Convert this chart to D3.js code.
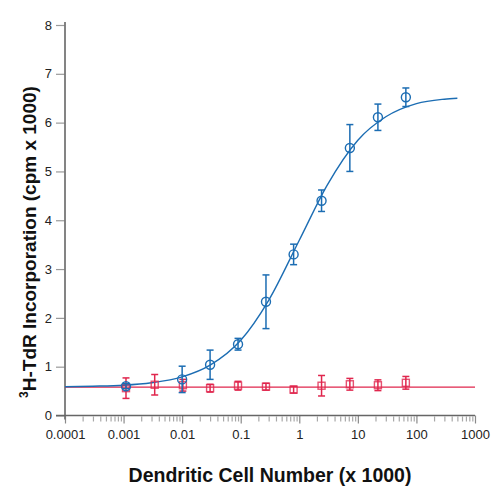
<!DOCTYPE html>
<html>
<head>
<meta charset="utf-8">
<script src="https://cdn.jsdelivr.net/npm/d3@7"></script>
<style>
  body { margin: 0; background: #fff; }
  svg { display: block; font-family: "Liberation Sans", Arial, sans-serif; }
</style>
</head>
<body>
<svg id="chart" width="500" height="500"></svg>
<script>
// ------------------------------------------------------------
// Data (x in cells x 1000, y in cpm x 1000)
// ------------------------------------------------------------
const blueX   = [0.0011, 0.01, 0.03, 0.09, 0.27, 0.8, 2.4, 7.3, 22, 66];
const blueY   = [0.60, 0.74, 1.04, 1.46, 2.33, 3.30, 4.40, 5.48, 6.11, 6.52];
const blueErr = [0.05, 0.27, 0.30, 0.12, 0.55, 0.21, 0.22, 0.48, 0.27, 0.19];

const redX   = [0.0011, 0.0034, 0.0103, 0.03, 0.09, 0.27, 0.8, 2.4, 7.3, 22, 66];
const redY   = [0.56, 0.63, 0.62, 0.56, 0.61, 0.59, 0.53, 0.61, 0.64, 0.62, 0.67];
const redErr = [0.21, 0.21, 0.12, 0.08, 0.09, 0.07, 0.07, 0.21, 0.12, 0.11, 0.13];

// fitted sigmoid as drawn, sampled along the picture
const fitX = [0.0001, 0.0003, 0.001, 0.003, 0.01, 0.03, 0.1, 0.3, 1, 3, 10, 30, 100, 300, 500];
const fitY = [0.59, 0.60, 0.62, 0.67, 0.79, 1.03, 1.54, 2.36, 3.59, 4.72, 5.64, 6.12, 6.39, 6.48, 6.50];

// flat baseline fit for the control
const baseX = [0.0001, 1000];
const baseY = [0.58, 0.58];

const xTickValues = [0.0001, 0.001, 0.01, 0.1, 1, 10, 100, 1000];
const xTickLabels = ["0.0001", "0.001", "0.01", "0.1", "1", "10", "100", "1000"];
const yTickValues = [0, 1, 2, 3, 4, 5, 6, 7, 8];

const BLUE = "#1c6db3";
const RED = "#e0264d";

// ------------------------------------------------------------
const svg = d3.select("#chart");

const x = d3.scaleLog().domain([0.0001, 1000]).range([65, 475]);
const y = d3.scaleLinear().domain([0, 8]).range([415.5, 25]);

// --- y axis ---
const yAxis = svg.append("g")
    .attr("transform", "translate(65,0)")
    .call(d3.axisLeft(y).tickValues(yTickValues).tickSize(9).tickPadding(4).tickSizeOuter(0));
yAxis.select(".domain").remove();
yAxis.selectAll(".tick line").attr("stroke", "#9a9a9a").attr("stroke-width", 1.2);
yAxis.selectAll(".tick text").attr("font-size", 13).attr("fill", "#222");

// --- x axis: minor ticks then majors ---
const minorValues = [];
for (let e = -4; e < 3; e++) {
    for (let m = 2; m <= 9; m++) minorValues.push(m * Math.pow(10, e));
}
const xMinor = svg.append("g")
    .attr("transform", "translate(0,416.5)")
    .call(d3.axisBottom(x).tickValues(minorValues).tickSize(5).tickFormat(""));
xMinor.select(".domain").remove();
xMinor.selectAll(".tick line").attr("stroke", "#a8a8a8").attr("stroke-width", 1.2);

const xAxis = svg.append("g")
    .attr("transform", "translate(0,415.5)")
    .call(d3.axisBottom(x).tickValues(xTickValues).tickSize(8).tickPadding(6)
        .tickFormat(function (d, i) { return xTickLabels[i]; }));
xAxis.select(".domain").remove();
xAxis.selectAll(".tick line").attr("stroke", "#8a8a8a").attr("stroke-width", 1.2);
xAxis.selectAll(".tick text").attr("font-size", 13).attr("fill", "#222");

// axis lines
svg.append("line")
    .attr("x1", x(0.0001)).attr("x2", x(0.0001))
    .attr("y1", y(8) - 3).attr("y2", y(0) + 4)
    .attr("stroke", "#777").attr("stroke-width", 1.8);
svg.append("line")
    .attr("x1", x(0.0001) - 9).attr("x2", x(1000))
    .attr("y1", y(0)).attr("y2", y(0))
    .attr("stroke", "#666").attr("stroke-width", 1.6);

// --- fit lines ---
const lineGen = d3.line()
    .x(function (d) { return x(d[0]); })
    .y(function (d) { return y(d[1]); });

svg.append("path")
    .datum(d3.zip(baseX, baseY))
    .attr("d", lineGen)
    .attr("fill", "none")
    .attr("stroke", RED)
    .attr("stroke-width", 1.3);

svg.append("path")
    .datum(d3.zip(fitX, fitY))
    .attr("d", lineGen.curve(d3.curveMonotoneX))
    .attr("fill", "none")
    .attr("stroke", BLUE)
    .attr("stroke-width", 1.4);

// --- error bars + markers ---
function drawSeries(xs, ys, errs, color, shape) {
    const pts = d3.zip(xs, ys, errs);
    const g = svg.append("g").attr("stroke", color).attr("fill", "none").attr("stroke-width", 1.5);

    const bars = g.selectAll("g.err").data(pts).enter().append("g").attr("class", "err");
    bars.append("line")
        .attr("x1", function (d) { return x(d[0]); })
        .attr("x2", function (d) { return x(d[0]); })
        .attr("y1", function (d) { return y(d[1] + d[2]); })
        .attr("y2", function (d) { return y(d[1] - d[2]); });
    [1, -1].forEach(function (s) {
        bars.append("line")
            .attr("x1", function (d) { return x(d[0]) - 3.5; })
            .attr("x2", function (d) { return x(d[0]) + 3.5; })
            .attr("y1", function (d) { return y(d[1] + s * d[2]); })
            .attr("y2", function (d) { return y(d[1] + s * d[2]); });
    });

    if (shape === "circle") {
        g.selectAll("circle").data(pts).enter().append("circle")
            .attr("cx", function (d) { return x(d[0]); })
            .attr("cy", function (d) { return y(d[1]); })
            .attr("r", 4.5)
            .attr("stroke-width", 1.4);
    } else {
        g.selectAll("rect").data(pts).enter().append("rect")
            .attr("x", function (d) { return x(d[0]) - 3.5; })
            .attr("y", function (d) { return y(d[1]) - 3.5; })
            .attr("width", 7)
            .attr("height", 7)
            .attr("stroke-width", 1.4)
            .attr("stroke-opacity", 0.8);
    }
}

drawSeries(redX, redY, redErr, RED, "square");
drawSeries(blueX, blueY, blueErr, BLUE, "circle");

// --- axis titles ---
svg.append("text")
    .attr("x", (x.range()[0] + x.range()[1]) / 2)
    .attr("y", 482)
    .attr("text-anchor", "middle")
    .attr("font-size", 19.5)
    .attr("font-weight", "bold")
    .attr("fill", "#111")
    .text("Dendritic Cell Number (x 1000)");

const yTitle = svg.append("text")
    .attr("transform", "translate(36,242) rotate(-90)")
    .attr("text-anchor", "middle")
    .attr("font-size", 19)
    .attr("font-weight", "bold")
    .attr("fill", "#111");
yTitle.append("tspan").attr("font-size", 12).attr("dy", -8).text("3");
yTitle.append("tspan").attr("dy", 8).text("H-TdR Incorporation (cpm x 1000)");
</script>
</body>
</html>
